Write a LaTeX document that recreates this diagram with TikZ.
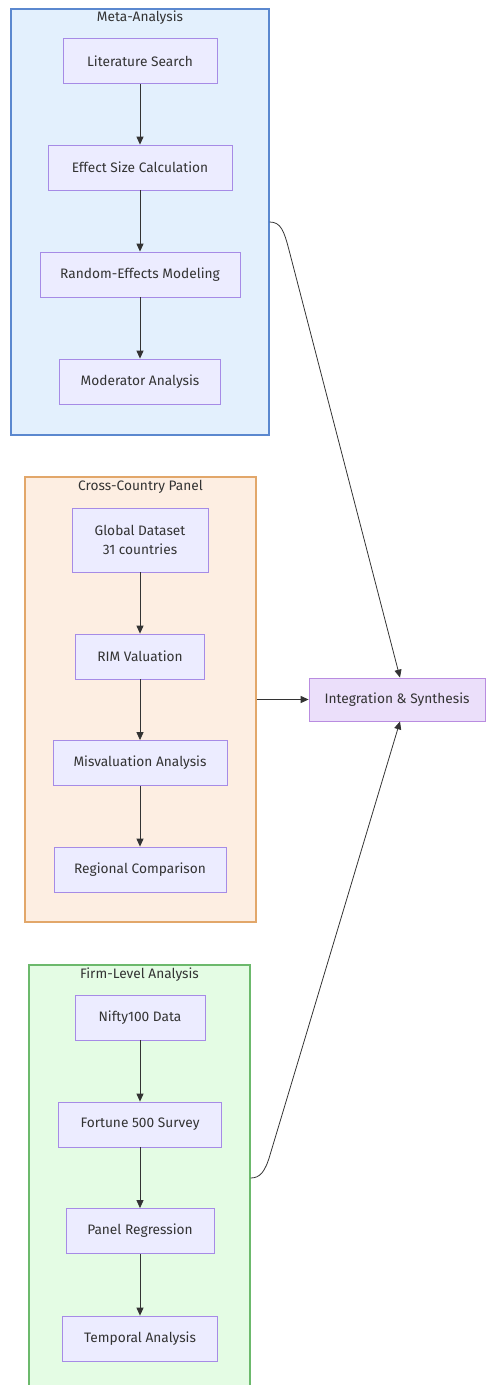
\documentclass[tikz,border=0pt]{standalone}
\usepackage{fontspec}
\setmainfont{Fira Sans}
\usetikzlibrary{arrows.meta}
\definecolor{metafill}{HTML}{E3F0FD}
\definecolor{metaline}{HTML}{5B88CF}
\definecolor{crossfill}{HTML}{FDEEE2}
\definecolor{crossline}{HTML}{E2A76A}
\definecolor{firmfill}{HTML}{E4FCE4}
\definecolor{firmline}{HTML}{6CB96C}
\definecolor{nodefill}{HTML}{ECECFF}
\definecolor{nodeline}{HTML}{A68BE6}
\definecolor{synthfill}{HTML}{EBDFFA}
\definecolor{synthline}{HTML}{B98CE0}
\definecolor{edgecol}{HTML}{333333}
\tikzset{
	stepnode/.style = {draw = nodeline, fill = nodefill, line width = 0.5pt, minimum height = 0.9cm, inner sep = 0pt, align = center, font = \fontsize{7.8}{11}\selectfont, text = black!80},
	cluster/.style = {draw = #1line, fill = #1fill, line width = 0.65pt, inner sep = 0pt},
	clustertitle/.style = {font = \fontsize{7.8}{10}\selectfont, text = black!80},
	flow/.style = {draw = edgecol, line width = 0.45pt, -{Triangle[length = 4.5pt, width = 4pt]}}
}
\begin{document}
\begin{tikzpicture}[x = 0.02cm, y = -0.02cm]
	\useasboundingbox (0, 0) rectangle (485, 1385);
	% clusters
	\node[cluster = meta, minimum width = 5.16cm, minimum height = 8.52cm] (meta) at (140, 222) {};
	\node[clustertitle] (metatitle) at (140, 18) {Meta-Analysis};
	\node[cluster = cross, minimum width = 4.62cm, minimum height = 8.9cm] (cross) at (140.5, 699.5) {};
	\node[clustertitle] (crosstitle) at (140.5, 487) {Cross-Country Panel};
	\begin{scope}
		\clip (0, 0) rectangle (485, 1385);
		\node[cluster = firm, minimum width = 4.42cm, minimum height = 8.52cm] (firm) at (139.5, 1178) {};
	\end{scope}
	\node[clustertitle] (firmtitle) at (139.5, 975) {Firm-Level Analysis};
	% meta-analysis
		\node[stepnode, minimum width = 3.08cm] (lit) at (140, 61) {Literature Search};
		\node[stepnode, minimum width = 3.68cm] (effect) at (140, 167.5) {Effect Size Calculation};
		\node[stepnode, minimum width = 4.0cm] (random) at (140, 274.5) {Random-Effects Modeling};
		\node[stepnode, minimum width = 3.22cm] (moderator) at (140, 381.5) {Moderator Analysis};
		\draw[flow] (lit) -- (effect);
		\draw[flow] (effect) -- (random);
		\draw[flow] (random) -- (moderator);
	% cross-country panel
		\node[stepnode, minimum width = 2.72cm, minimum height = 1.28cm] (global) at (140, 540) {Global Dataset\\31 countries};
		\node[stepnode, minimum width = 2.58cm] (rim) at (140, 656.5) {RIM Valuation};
		\node[stepnode, minimum width = 3.48cm] (misval) at (140, 763) {Misvaluation Analysis};
		\node[stepnode, minimum width = 3.44cm] (regional) at (140, 869.5) {Regional Comparison};
		\draw[flow] (global) -- (rim);
		\draw[flow] (rim) -- (misval);
		\draw[flow] (misval) -- (regional);
	% firm-level analysis
		\node[stepnode, minimum width = 2.6cm] (nifty) at (140, 1017.5) {Nifty100 Data};
		\node[stepnode, minimum width = 3.26cm] (fortune) at (140, 1124.5) {Fortune 500 Survey};
		\node[stepnode, minimum width = 2.96cm] (panelreg) at (140, 1231) {Panel Regression};
		\node[stepnode, minimum width = 3.1cm] (temporal) at (140, 1338.5) {Temporal Analysis};
		\draw[flow] (nifty) -- (fortune);
		\draw[flow] (fortune) -- (panelreg);
		\draw[flow] (panelreg) -- (temporal);
	% synthesis
	\node[stepnode, fill = synthfill, draw = synthline, minimum width = 3.52cm, minimum height = 0.86cm] (synth) at (397, 699.5) {Integration \& Synthesis};
	\coordinate (metabend) at (289, 250);
	\coordinate (firmbend) at (270, 1155);
	\draw[flow] (meta.east) .. controls (281, 222) and (284, 231) .. (metabend) -- ([xshift = 0.06cm]synth.north);
	\draw[flow] (cross.east |- synth.west) -- (synth.west);
	\draw[flow] (firm.east) .. controls (260, 1178) and (265, 1172) .. (firmbend) -- ([xshift = 0.06cm]synth.south);
\end{tikzpicture}
\end{document}
